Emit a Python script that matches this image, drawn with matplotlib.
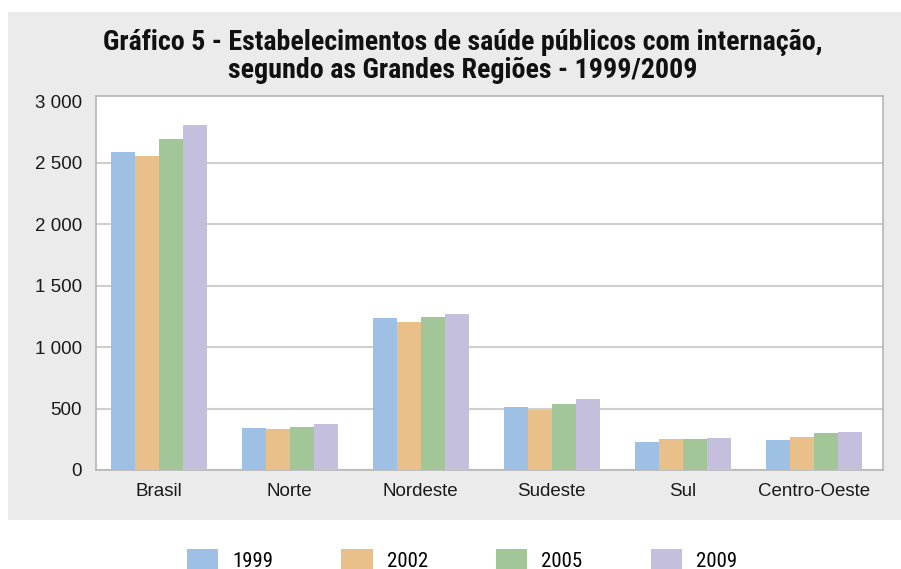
import matplotlib
matplotlib.use("Agg")
import matplotlib.pyplot as plt
from matplotlib.patches import Rectangle
import numpy as np

categories = ["Brasil", "Norte", "Nordeste", "Sudeste", "Sul", "Centro-Oeste"]
years = ["1999", "2002", "2005", "2009"]
v1999 = [2588, 343, 1234, 515, 231, 245]
v2002 = [2555, 335, 1201, 490, 253, 270]
v2005 = [2693, 351, 1242, 539, 253, 302]
v2009 = [2807, 376, 1274, 580, 261, 310]
series = [v1999, v2002, v2005, v2009]
colors = ["#9DC0E4", "#E9C08A", "#A2C698", "#C4BFDC"]
yticks = [0, 500, 1000, 1500, 2000, 2500, 3000]
ytick_labels = ["0", "500", "1 000", "1 500", "2 000", "2 500", "3 000"]

W, H = 901, 569
fig = plt.figure(figsize=(W / 100, H / 100), dpi=100)
fig.patch.set_facecolor("white")
bg = Rectangle((8 / W, (H - 520) / H), 1 - 8 / W, (520 - 12) / H,
               transform=fig.transFigure, facecolor="#EBEBEB",
               edgecolor="none", zorder=-10)
fig.add_artist(bg)

ax = fig.add_axes([96 / W, (H - 470) / H, 787 / W, 374 / H])
ax.set_zorder(1)
ax.set_facecolor("white")
x = np.arange(len(categories))
bw = 0.1835
for i, (vals, c, yr) in enumerate(zip(series, colors, years)):
    ax.bar(x + (i - 1.5) * bw, vals, width=bw, color=c, label=yr, zorder=3)

ax.set_xlim(-0.48, len(categories) - 0.47)
ax.set_ylim(0, 3045)
ax.set_yticks(yticks)
ax.set_yticklabels(ytick_labels)
ax.set_xticks(x)
ax.set_xticklabels(categories)
ax.tick_params(axis="both", length=0, labelsize=13.5, colors="#1a1a1a")
ax.tick_params(axis="y", pad=10)
ax.tick_params(axis="x", pad=9)
for lab in ax.get_xticklabels() + ax.get_yticklabels():
    lab.set_fontfamily(["Liberation Sans", "DejaVu Sans"])
ax.grid(axis="y", color="#CFCFCF", linewidth=1.5, zorder=0)
ax.yaxis.get_gridlines()[-1].set_visible(False)
ax.set_axisbelow(True)
for s in ax.spines.values():
    s.set_color("#B5B5B5")
    s.set_linewidth(1.2)

title_font = ["Roboto Condensed", "DejaVu Sans"]
fig.text(463 / W, 1 - 43 / H,
         "Gráfico 5 - Estabelecimentos de saúde públicos com internação,",
         ha="center", va="center", fontsize=20.2, fontweight="bold",
         family=title_font, color="#111111")
fig.text(463 / W, 1 - 70 / H,
         "segundo as Grandes Regiões - 1999/2009",
         ha="center", va="center", fontsize=20.2, fontweight="bold",
         family=title_font, color="#111111")

handles, labels = ax.get_legend_handles_labels()
leg = fig.legend(handles, labels, loc="center", ncol=4,
                 bbox_to_anchor=(462 / W, 1 - 560 / H), frameon=False,
                 prop={"family": ["Roboto Condensed", "DejaVu Sans"], "size": 15},
                 handlelength=1.5, handleheight=1.1, handletextpad=0.67,
                 columnspacing=3.27, borderpad=0, borderaxespad=0)

fig.savefig("out.png", dpi=100)
